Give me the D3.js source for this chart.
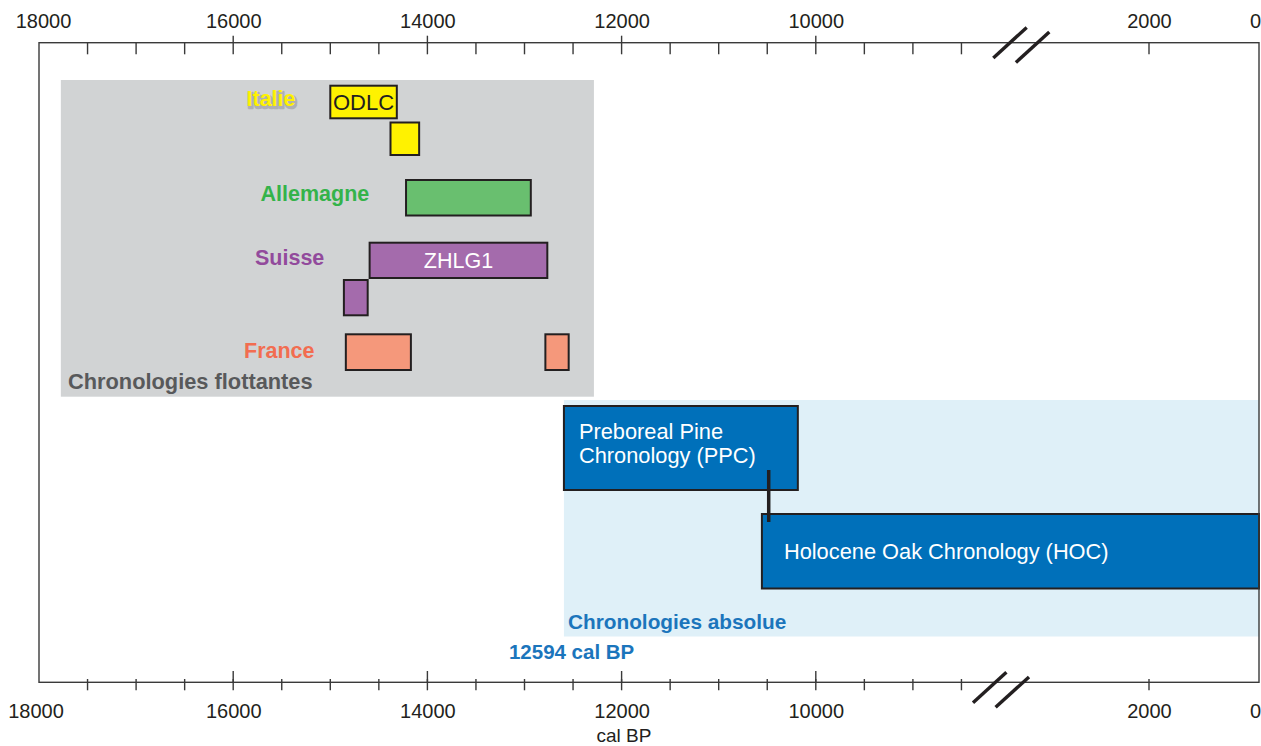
<!DOCTYPE html>
<html lang="fr">
<head>
<meta charset="utf-8">
<title>Chronologies dendrochronologiques</title>
<script src="https://cdn.jsdelivr.net/npm/d3@7"></script>
<style>
  html, body { margin: 0; padding: 0; background: #ffffff; }
  svg { display: block; }
  text { font-family: "Liberation Sans", Arial, Helvetica, sans-serif; }
</style>
</head>
<body>
<svg id="chart" width="1261" height="746"></svg>
<script>
// ---- Data -------------------------------------------------------------
// Axis ticks (years cal BP)
const labelTicks = [18000, 16000, 14000, 12000, 10000, 2000, 0];
const majorTicks = [16000, 14000, 12000, 10000];
const minorTicks = [17500, 17000, 16500, 16000, 15500, 15000, 14500, 14000,
                    13500, 13000, 12500, 12000, 11500, 11000, 10500, 10000,
                    9500, 9000, 8500, 2000];

// Floating (not yet anchored) chronologies
const countries        = ["Italie", "Allemagne", "Suisse", "France"];
const floatingLabel    = ["ODLC", "", "", "ZHLG1", "", "", ""];
const floatingCountry  = ["Italie", "Italie", "Allemagne", "Suisse", "Suisse", "France", "France"];
const floatingLane     = [0, 1, 2, 3, 4, 5, 5];
const floatingStart    = [15000, 14380, 14220, 14595, 14860, 14840, 12785];
const floatingEnd      = [14315, 14085, 12935, 12765, 14615, 14170, 12545];
const floatingWindow   = [17775, 12285];

// Absolute chronologies
const absoluteLabel    = [["Preboreal Pine", "Chronology (PPC)"], ["Holocene Oak Chronology (HOC)"]];
const absoluteLane     = [6, 7];
const absoluteStart    = [12594, 10555];
const absoluteEnd      = [10185, 0];
const absoluteOrigin   = 12594;
const linkYear         = 10485;

// ---- Layout & style ----------------------------------------------------
const W = 1261, H = 746;
const topY = 42.7, bottomY = 682.3;
const laneTop    = [85.7, 122.5, 180, 242.7, 280, 334.3, 406, 514];
const laneHeight = [32.6, 32.5, 35.5, 35.3, 35.3, 35.7, 84, 74.5];

const barFill   = { Italie: "#fff200", Allemagne: "#69bf6f", Suisse: "#a46bac", France: "#f5987b" };
const labelFill = { Italie: "#fff200", Allemagne: "#34b34a", Suisse: "#924a9c", France: "#f26d50" };
const labelPos  = { Italie: [246.5, 106], Allemagne: [260.5, 200.5], Suisse: [255, 264.5], France: [244, 357.8] };
const barTextFill = { ODLC: "#231f20", ZHLG1: "#ffffff" };

const ink = "#231f20";
const axisInk = "#3a3a3a";
const blue = "#0070ba";
const blueText = "#1b75bc";

// Broken time axis: 18000-8000 and 4000-0 with a compressed gap between
const x = d3.scaleLinear()
  .domain([18000, 8000, 4000, 0])
  .range([39, 1010, 1039, 1259]);

const svg = d3.select("#chart");

// ---- Background panels ------------------------------------------------
svg.append("rect")
  .attr("x", x(floatingWindow[0]))
  .attr("y", 80)
  .attr("width", x(floatingWindow[1]) - x(floatingWindow[0]))
  .attr("height", 396.7 - 80)
  .attr("fill", "#d1d3d4");

svg.append("rect")
  .attr("x", x(absoluteOrigin))
  .attr("y", 400)
  .attr("width", x(0) - x(absoluteOrigin))
  .attr("height", 636.5 - 400)
  .attr("fill", "#dff0f8");

// ---- Floating chronologies ---------------------------------------------
const floating = floatingStart.map((s, i) => ({
  start: s, end: floatingEnd[i], lane: floatingLane[i],
  country: floatingCountry[i], label: floatingLabel[i]
}));

svg.append("g").selectAll("rect")
  .data(floating)
  .join("rect")
  .attr("x", d => x(d.start))
  .attr("y", d => laneTop[d.lane])
  .attr("width", d => x(d.end) - x(d.start))
  .attr("height", d => laneHeight[d.lane])
  .attr("fill", d => barFill[d.country])
  .attr("stroke", ink)
  .attr("stroke-width", 2);

svg.append("g").selectAll("text")
  .data(floating.filter(d => d.label))
  .join("text")
  .attr("x", d => (x(d.start) + x(d.end)) / 2)
  .attr("y", d => laneTop[d.lane] + laneHeight[d.lane] / 2 + 8)
  .attr("text-anchor", "middle")
  .attr("font-size", d => d.label === "ODLC" ? 22 : 21.5)
  .attr("fill", d => barTextFill[d.label])
  .text(d => d.label);

// Country labels
const countryG = svg.append("g")
  .attr("font-weight", "bold")
  .attr("font-size", 21.5);

// grey shadow behind the yellow "Italie" label
countryG.append("text")
  .attr("x", labelPos.Italie[0] + 1.3)
  .attr("y", labelPos.Italie[1] + 1.8)
  .attr("fill", "#a3a5a8")
  .attr("stroke", "#aeb0b3")
  .attr("stroke-width", 2.6)
  .attr("stroke-linejoin", "round")
  .text("Italie");

countryG.selectAll("text.country")
  .data(countries)
  .join("text")
  .attr("class", "country")
  .attr("x", d => labelPos[d][0])
  .attr("y", d => labelPos[d][1])
  .attr("fill", d => labelFill[d])
  .text(d => d);

svg.append("text")
  .attr("x", 68)
  .attr("y", 389)
  .attr("font-weight", "bold")
  .attr("font-size", 21.8)
  .attr("fill", "#58595b")
  .text("Chronologies flottantes");

// ---- Absolute chronologies ---------------------------------------------
const absolute = absoluteStart.map((s, i) => ({
  start: s, end: absoluteEnd[i], lane: absoluteLane[i], lines: absoluteLabel[i]
}));

svg.append("g").selectAll("rect")
  .data(absolute)
  .join("rect")
  .attr("x", d => x(d.start))
  .attr("y", d => laneTop[d.lane])
  .attr("width", d => x(d.end) - x(d.start))
  .attr("height", d => laneHeight[d.lane])
  .attr("fill", blue)
  .attr("stroke", ink)
  .attr("stroke-width", 2);

const absText = svg.append("g").selectAll("text")
  .data(absolute)
  .join("text")
  .attr("font-size", 21.8)
  .attr("fill", "#ffffff")
  .attr("x", (d, i) => x(d.start) + (i === 0 ? 15 : 22))
  .attr("y", (d, i) => i === 0 ? laneTop[d.lane] + 33 : laneTop[d.lane] + laneHeight[d.lane] / 2 + 7.5);

absText.selectAll("tspan")
  .data(d => d.lines)
  .join("tspan")
  .attr("x", function () { return d3.select(this.parentNode).attr("x"); })
  .attr("dy", (d, i) => i === 0 ? 0 : 23.5)
  .text(d => d);

// PPC - HOC link
svg.append("line")
  .attr("x1", x(linkYear)).attr("x2", x(linkYear))
  .attr("y1", 470).attr("y2", 522)
  .attr("stroke", ink)
  .attr("stroke-width", 3.5);

svg.append("text")
  .attr("x", x(absoluteOrigin) + 4)
  .attr("y", 628.5)
  .attr("font-weight", "bold")
  .attr("font-size", 20.8)
  .attr("fill", blueText)
  .text("Chronologies absolue");

svg.append("text")
  .attr("x", x(absoluteOrigin) - 55)
  .attr("y", 659)
  .attr("font-weight", "bold")
  .attr("font-size", 20.5)
  .attr("fill", blueText)
  .text(absoluteOrigin + " cal BP");

// ---- Frame & axes -------------------------------------------------------
svg.append("rect")
  .attr("x", x(18000))
  .attr("y", topY)
  .attr("width", x(0) - x(18000))
  .attr("height", bottomY - topY)
  .attr("fill", "none")
  .attr("stroke", axisInk)
  .attr("stroke-width", 1.4);

const ticks = svg.append("g").attr("stroke", axisInk).attr("stroke-width", 1.4);
// top: minor ticks hang below, major ones also rise above the line
ticks.selectAll("line.tmin").data(minorTicks).join("line")
  .attr("class", "tmin")
  .attr("x1", d => x(d)).attr("x2", d => x(d))
  .attr("y1", topY).attr("y2", topY + 11.6);
ticks.selectAll("line.tmaj").data(majorTicks).join("line")
  .attr("class", "tmaj")
  .attr("x1", d => x(d)).attr("x2", d => x(d))
  .attr("y1", topY - 7).attr("y2", topY);
// bottom: ticks cross the line
ticks.selectAll("line.bmin").data(minorTicks).join("line")
  .attr("class", "bmin")
  .attr("x1", d => x(d)).attr("x2", d => x(d))
  .attr("y1", bottomY - 3.3).attr("y2", bottomY + 8);
ticks.selectAll("line.bmaj").data(majorTicks).join("line")
  .attr("class", "bmaj")
  .attr("x1", d => x(d)).attr("x2", d => x(d))
  .attr("y1", bottomY - 11.3).attr("y2", bottomY);

const fmt = d3.format("d");
const topAxis = svg.append("g")
  .attr("transform", `translate(0,${topY})`)
  .call(d3.axisTop(x).tickValues(labelTicks).tickSize(0).tickPadding(14.4).tickFormat(fmt));
const bottomAxis = svg.append("g")
  .attr("transform", `translate(0,${bottomY})`)
  .call(d3.axisBottom(x).tickValues(labelTicks).tickSize(0).tickPadding(22).tickFormat(fmt));

[topAxis, bottomAxis].forEach(g => {
  g.select(".domain").remove();
  g.selectAll("text")
    .attr("font-family", "\"Liberation Sans\", Arial, sans-serif")
    .attr("font-size", 20)
    .attr("fill", ink);
  g.selectAll(".tick").filter(d => d === 0).select("text")
    .attr("text-anchor", "end").attr("dx", 1.5);
});
topAxis.selectAll(".tick").filter(d => d === 18000).select("text").attr("dx", 4);
bottomAxis.selectAll(".tick").filter(d => d === 18000).select("text").attr("dx", -3.5);

svg.append("text")
  .attr("x", 624)
  .attr("y", 742)
  .attr("text-anchor", "middle")
  .attr("font-size", 19)
  .attr("fill", ink)
  .text("cal BP");

// ---- Axis break marks -----------------------------------------------------
function breakMarks(cx, cy) {
  const g = svg.append("g").attr("stroke", ink).attr("stroke-width", 3.4);
  [[0, 0], [22.6, 4.6]].forEach(([ox, oy]) => {
    g.append("line")
      .attr("x1", cx + ox - 16.7).attr("y1", cy + oy + 15.2)
      .attr("x2", cx + ox + 16.7).attr("y2", cy + oy - 15.2);
  });
}
breakMarks(x(8000), topY);
breakMarks(x(8000) - 20.3, bottomY + 5.2);
</script>
</body>
</html>
